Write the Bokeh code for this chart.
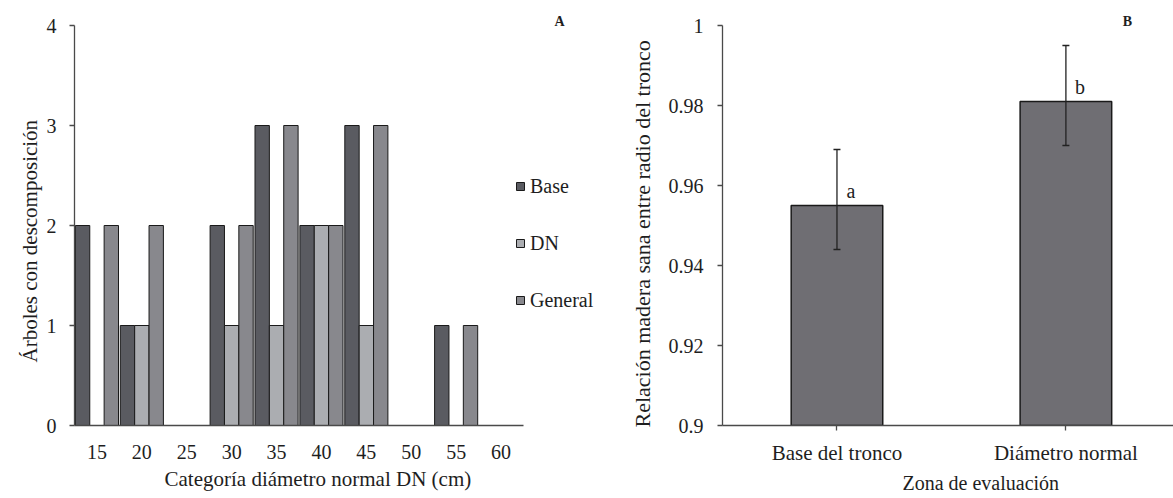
from bokeh.plotting import figure
from bokeh.layouts import row
from bokeh.models import (ColumnDataSource, Range1d, Legend, LegendItem, Title,
                          FixedTicker, Whisker, TeeHead, Label, CustomJSTickFormatter)
from bokeh.transform import dodge
from bokeh.core.properties import value
from bokeh.embed import file_html
from bokeh.resources import INLINE

# ---------------- Panel A data ----------------
dn_categories = ["15", "20", "25", "30", "35", "40", "45", "50", "55", "60"]
base_counts = [2, 1, 0, 2, 3, 2, 3, 0, 1, 0]
dn_counts = [0, 1, 0, 1, 1, 2, 1, 0, 0, 0]
general_counts = [2, 2, 0, 2, 3, 2, 3, 0, 1, 0]
series_names = ["Base", "DN", "General"]
y_ticks_a = [0, 1, 2, 3, 4]

# ---------------- Panel B data ----------------
zones = ["Base del tronco", "Diámetro normal"]
ratio_means = [0.955, 0.981]
ratio_upper = [0.969, 0.995]
ratio_lower = [0.944, 0.970]
ratio_letters = ["a", "b"]
y_ticks_b = [0.90, 0.92, 0.94, 0.96, 0.98, 1.00]

FONT = "'Liberation Serif', 'Times New Roman', serif"
TXT = "#1e1e1e"
AXC = "#4a4a4a"
series_colors = ["#5a5b61", "#abadb1", "#88888d"]
OUTLINE = "#1a1a1a"


def style_axes(p):
    p.outline_line_color = None
    p.xgrid.visible = False
    p.ygrid.visible = False
    p.background_fill_color = "white"
    p.border_fill_color = "white"
    for ax in (p.xaxis[0], p.yaxis[0]):
        ax.axis_line_color = AXC
        ax.axis_line_width = 1.3
        ax.major_tick_line_color = AXC
        ax.major_tick_line_width = 1.3
        ax.major_tick_in = 0
        ax.major_tick_out = 5
        ax.minor_tick_line_color = None
        ax.major_label_text_font = FONT
        ax.major_label_text_font_size = "20px"
        ax.major_label_text_color = TXT


def axis_title(p, text, side, size, offset, standoff, valign="bottom"):
    t = Title(text=text, align="left", offset=offset, standoff=standoff,
              vertical_align=valign,
              text_font=FONT, text_font_size=size, text_font_style="normal",
              text_color=TXT)
    p.add_layout(t, side)


# ================= Panel A =================
n_cat = len(dn_categories)
srcA = ColumnDataSource(dict(idx=list(range(n_cat)), base=base_counts,
                             dn=dn_counts, general=general_counts))

cat_px = 44.9                      # pixel width of one DN category
frame_w_a = 600 - 74
pA = figure(width=600, height=498,
            x_range=Range1d(-0.5, -0.5 + frame_w_a / cat_px),
            y_range=Range1d(y_ticks_a[0], y_ticks_a[-1] + 0.15),
            output_backend="svg", toolbar_location=None,
            min_border_left=74, min_border_right=0,
            min_border_top=9, min_border_bottom=73)
style_axes(pA)

bw = 0.32
renderers = []
for off, col, color in zip([-bw, 0.0, bw], ["base", "dn", "general"], series_colors):
    r = pA.vbar(x=dodge("idx", off), top=col, width=bw,
                source=srcA, fill_color=color, line_color=OUTLINE, line_width=1)
    renderers.append(r)

pA.yaxis[0].ticker = FixedTicker(ticks=y_ticks_a)
pA.yaxis[0].bounds = (y_ticks_a[0], y_ticks_a[-1])
pA.yaxis[0].major_label_standoff = 13
pA.xaxis[0].ticker = FixedTicker(ticks=list(range(n_cat)))
pA.xaxis[0].major_label_overrides = {i: c for i, c in enumerate(dn_categories)}
pA.xaxis[0].bounds = (-0.5, n_cat - 0.5)
pA.xaxis[0].major_tick_out = 0
pA.xaxis[0].major_label_standoff = 19
axis_title(pA, "Categoría diámetro normal DN (cm)", "below", "21px", 90, 10, "top")
axis_title(pA, "Árboles con descomposición", "left", "21px", 63, 4)

legend = Legend(items=[LegendItem(label=n, renderers=[r]) for n, r in zip(series_names, renderers)],
                location=(441, 113), orientation="vertical",
                glyph_width=10, glyph_height=10, label_height=24, spacing=33,
                padding=0, margin=0, label_standoff=5,
                border_line_alpha=0, background_fill_alpha=0,
                label_text_font=FONT, label_text_font_size="20px", label_text_color=TXT)
pA.add_layout(legend)

pA.add_layout(Label(x=485, y=404, x_units="screen", y_units="screen", text="A",
                    text_font=FONT, text_font_style="bold", text_font_size="14px",
                    text_color=TXT, text_align="center", text_baseline="middle"))

# ================= Panel B =================
srcB = ColumnDataSource(dict(idx=list(range(len(zones))), mean=ratio_means,
                             upper=ratio_upper, lower=ratio_lower, letter=ratio_letters))

pB = figure(width=573, height=498, x_range=Range1d(-0.5, 1.47),
            y_range=Range1d(y_ticks_b[0], y_ticks_b[-1] + 0.00375),
            output_backend="svg", toolbar_location=None,
            min_border_left=122, min_border_right=0,
            min_border_top=10, min_border_bottom=73)
style_axes(pB)

pB.vbar(x="idx", top="mean", bottom=y_ticks_b[0], width=0.4, source=srcB,
        fill_color="#6f6e73", line_color=OUTLINE, line_width=1.5)

whisk = Whisker(source=srcB, base="idx", upper="upper", lower="lower",
                line_color="#222222", line_width=1.3, level="overlay",
                upper_head=TeeHead(size=7, line_color="#222222", line_width=1.3),
                lower_head=TeeHead(size=7, line_color="#222222", line_width=1.3))
pB.add_layout(whisk)

pB.text(x="idx", y="mean", text="letter", source=srcB, x_offset=14, y_offset=-15,
        text_align="center", text_baseline="alphabetic",
        text_font=value(FONT), text_font_size="20px", text_color=TXT)

pB.xaxis[0].ticker = FixedTicker(ticks=list(range(len(zones))))
pB.xaxis[0].major_label_overrides = {i: z for i, z in enumerate(zones)}
pB.xaxis[0].major_label_standoff = 10
pB.xaxis[0].major_label_text_font_size = "21px"
pB.yaxis[0].ticker = FixedTicker(ticks=y_ticks_b)
pB.yaxis[0].bounds = (y_ticks_b[0], y_ticks_b[-1])
pB.yaxis[0].formatter = CustomJSTickFormatter(code="return String(Number(tick.toFixed(2)));")
pB.yaxis[0].major_label_standoff = 14
axis_title(pB, "Zona de evaluación", "below", "20px", 180, 4)
axis_title(pB, "Relación madera sana entre radio del tronco", "left", "22px", -2, 22)

pB.add_layout(Label(x=405, y=404, x_units="screen", y_units="screen", text="B",
                    text_font=FONT, text_font_style="bold", text_font_size="14px",
                    text_color=TXT, text_align="center", text_baseline="middle"))

layout = row(pA, pB)
open("out.html", "w").write(file_html(layout, INLINE))
